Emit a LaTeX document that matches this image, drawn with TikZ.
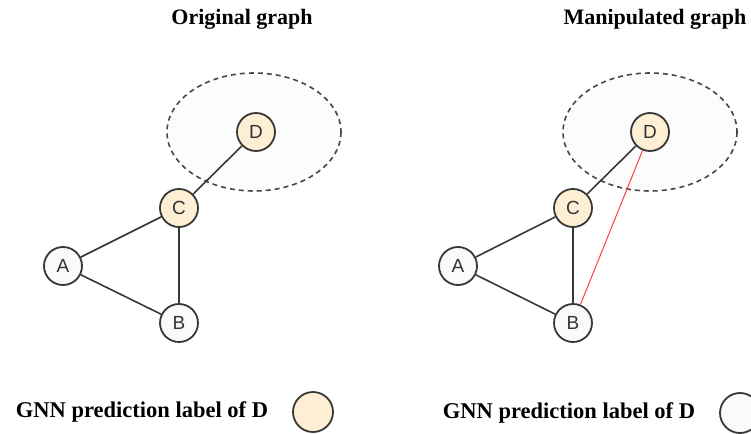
\documentclass[tikz,border=0pt]{standalone}
\usepackage{fontspec}
\setmainfont{Liberation Serif}
\newfontfamily\nodefont{Liberation Sans}
\begin{document}
\begin{tikzpicture}[x=1pt,y=-1pt,
  vtx/.style={circle,draw=black!78,line width=1.8pt,minimum size=38pt,inner sep=0pt,
    font=\nodefont\fontsize{19}{19}\selectfont,text=black!80},
  hot/.style={vtx,fill=yellow!25!orange!15!white},
  cold/.style={vtx,fill=black!2},
  edge/.style={draw=black!78,line width=1.6pt},
  attack/.style={draw=red!75!white,line width=1pt},
  zone/.style={draw=black!72,line width=1.6pt,dash pattern=on 5pt off 4pt,fill=black!1},
  title/.style={font=\bfseries\fontsize{22}{26}\selectfont},
  legend/.style={font=\bfseries\fontsize{22.5}{26}\selectfont}]
\useasboundingbox (0,0) rectangle (751,433);

% ---- original graph ----
\node[title] (t1) at (242,19) {Original graph};
\draw[zone] (254,132) ellipse [x radius=87, y radius=59];
\node[hot]  (d1) at (256,132) {D};
\node[hot]  (c1) at (179,208) {C};
\node[cold] (a1) at (63,266) {A};
\node[cold] (b1) at (179,323) {B};
\draw[edge] (d1) -- (c1);
\draw[edge] (c1) -- (a1);
\draw[edge] (c1) -- (b1);
\draw[edge] (a1) -- (b1);

% ---- manipulated graph ----
\node[title] (t2) at (655,19) {Manipulated graph};
\draw[zone] (650,132) ellipse [x radius=87, y radius=59];
\node[hot]  (d2) at (650,132) {D};
\node[hot]  (c2) at (573,208) {C};
\node[cold] (a2) at (458,266) {A};
\node[cold] (b2) at (573,323) {B};
\draw[edge] (d2) -- (c2);
\draw[edge] (c2) -- (a2);
\draw[edge] (c2) -- (b2);
\draw[edge] (a2) -- (b2);
\draw[attack] (d2) -- (b2);

% ---- legends ----
\node[legend] (l1) at (142,412) {GNN prediction label of D};
\node[hot,minimum size=40pt] (k1) at (313,412) {};
\node[legend] (l2) at (569,413) {GNN prediction label of D};
\node[cold,minimum size=40pt] (k2) at (740,413) {};
\end{tikzpicture}
\end{document}
